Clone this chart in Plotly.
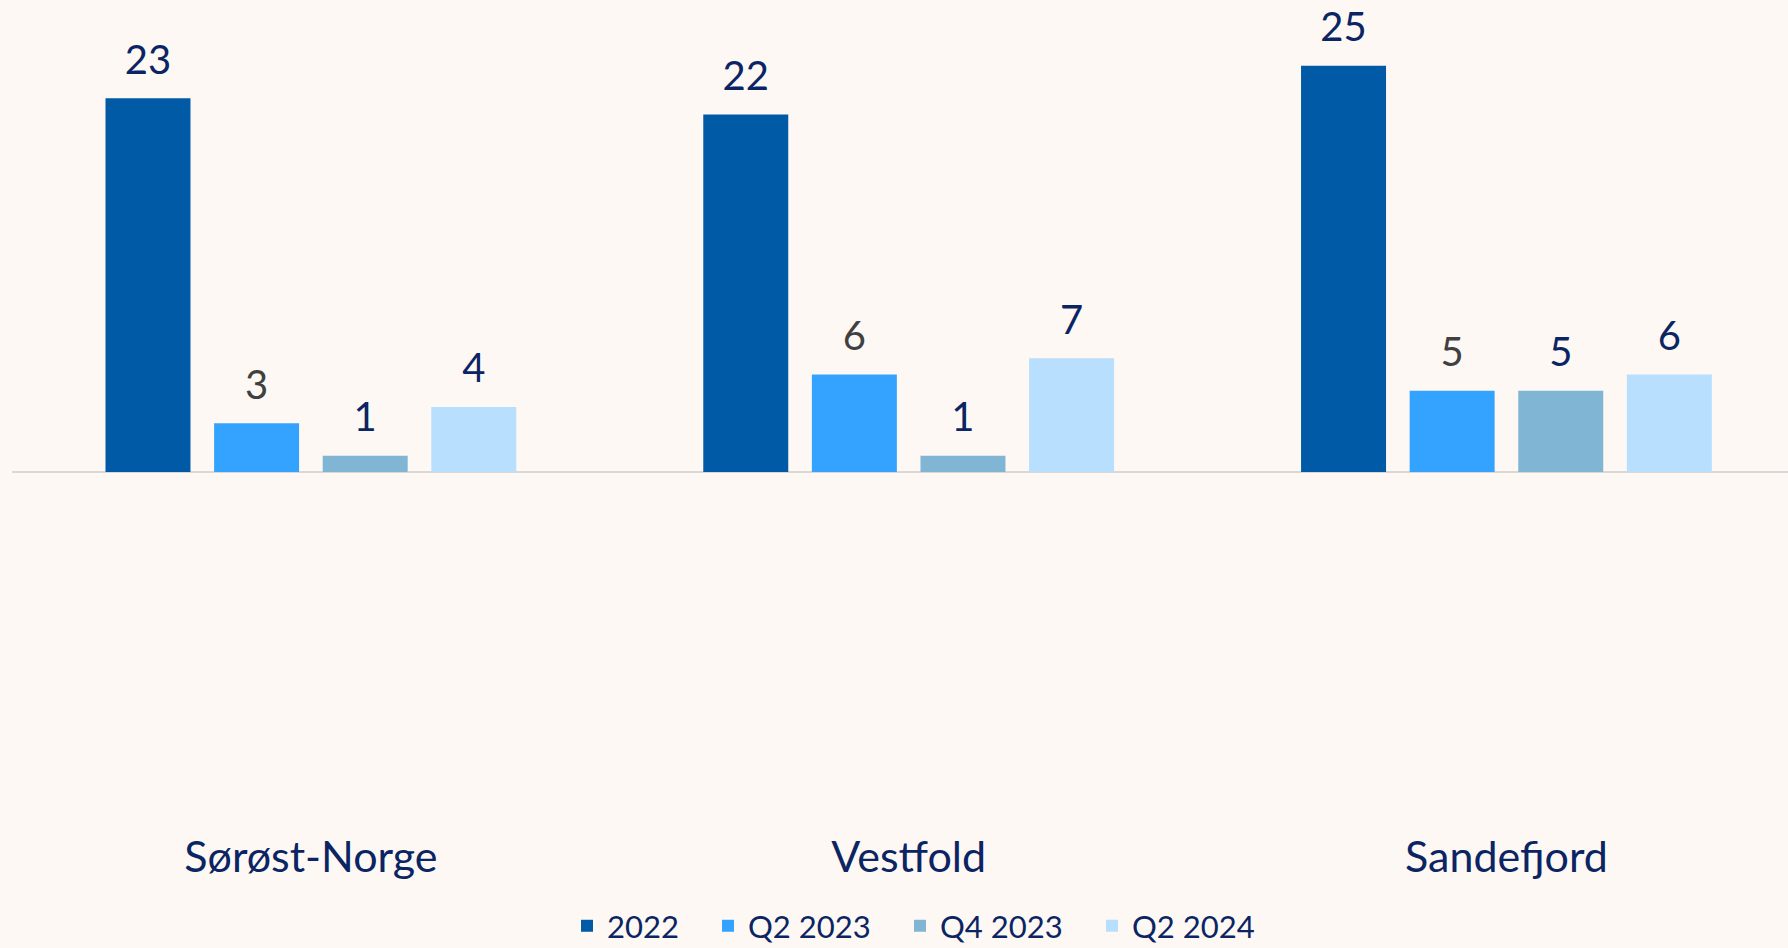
import plotly.graph_objects as go

categories = ["Sørøst-Norge", "Vestfold", "Sandefjord"]
series_names = ["2022", "Q2 2023", "Q4 2023", "Q2 2024"]
v_2022 = [23, 22, 25]
v_q2_2023 = [3, 6, 5]
v_q4_2023 = [1, 1, 5]
v_q2_2024 = [4, 7, 6]

values = [v_2022, v_q2_2023, v_q4_2023, v_q2_2024]
colors = ["#005AA5", "#33A3FF", "#80B5D4", "#B8DFFD"]
label_colors = ["#0B2463", "#404040", "#0B2463", "#0B2463"]
legend_widths = [96, 147, 147, 130]

FONT = "Lato"
NAVY = "#0B2463"
BG = "#FDF8F4"
GAP = 0.2733

fig = go.Figure()
for name, vals, col, lw in zip(series_names, values, colors, legend_widths):
    fig.add_trace(go.Bar(
        x=categories, y=vals, name=name,
        marker=dict(color=col, line=dict(width=0)),
        legendwidth=lw,
        hoverinfo="x+y+name",
    ))

# value labels, grouped with the same offsets as the bars
for name, vals, lcol in zip(series_names, values, label_colors):
    fig.add_trace(go.Scatter(
        x=categories, y=vals, mode="markers+text",
        text=[str(v) for v in vals], textposition="top center",
        textfont=dict(family=FONT, size=40, color=lcol),
        marker=dict(size=22, color="rgba(0,0,0,0)"),
        showlegend=False, hoverinfo="skip", cliponaxis=False,
    ))

fig.update_layout(
    width=1788, height=948,
    paper_bgcolor=BG, plot_bgcolor=BG,
    barmode="group", bargap=GAP, bargroupgap=0.2174,
    scattermode="group", scattergap=GAP,
    margin=dict(l=12, r=0, t=0, b=120, autoexpand=False),
    font=dict(family=FONT, color=NAVY),
    showlegend=True,
    legend=dict(
        orientation="h", x=0.3125, xanchor="left", y=-0.1185, yanchor="middle",
        font=dict(family=FONT, size=31, color=NAVY),
        bgcolor="rgba(0,0,0,0)", traceorder="normal",
    ),
    xaxis=dict(
        type="category", range=[-0.5, 2.471],
        showline=False, showgrid=False, ticks="",
        tickfont=dict(family=FONT, size=43, color=NAVY),
    ),
    yaxis=dict(
        range=[-21.9, 29.05], showgrid=False, showticklabels=False,
        zeroline=True, zerolinecolor="#D9D9D9", zerolinewidth=2,
        showline=False, ticks="",
    ),
)

fig.write_html(
    "out.html",
    config={"displayModeBar": False},
    post_script="document.body.style.margin='0px';document.body.style.background='%s';" % BG,
)
